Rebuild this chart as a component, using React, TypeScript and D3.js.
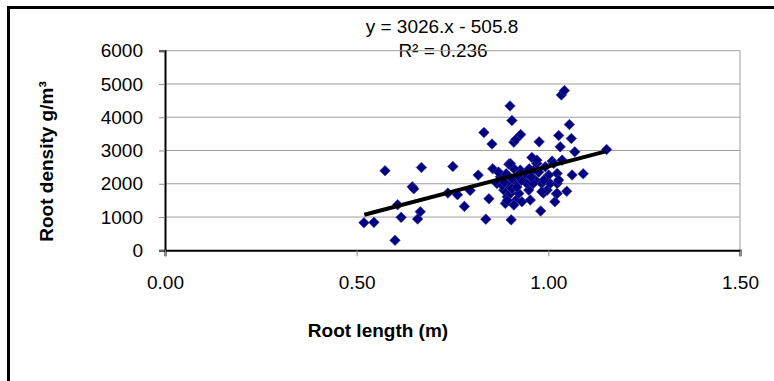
import React, { useEffect, useRef } from "react";
import { axisBottom, axisLeft, scaleLinear, select, line, symbol, symbolSquare } from "d3";

const width = 774;
const height = 381;
const plotLeft = 165;
const plotRight = 740;
const plotTop = 50.7;
const plotBottom = 250.3;
const font = "'Liberation Sans', Arial, sans-serif";

// root length (m)
const rootLength = [
  0.519, 0.545, 0.574, 0.6, 0.607, 0.616, 0.645, 0.649, 0.659, 0.666, 0.669, 0.738,
  0.751, 0.763, 0.781, 0.796, 0.817, 0.832, 0.837, 0.845, 0.853, 0.855, 0.9, 0.905,
  0.903, 0.91, 0.915, 0.928, 0.897, 0.888, 0.916, 0.976, 0.98, 1.01, 0.987, 1.017,
  1.021, 1.027, 1.031, 1.034, 1.042, 1.055, 1.06, 1.069, 1.062, 1.091, 1.048, 1.152,
  0.875, 0.866, 0.884, 0.893, 0.91, 0.914, 0.923, 0.936, 0.949, 0.944, 0.962, 0.97,
  0.992, 1.001, 0.901, 0.896, 0.927, 0.91, 0.983, 0.966, 1.005, 1.023, 1.036, 0.953,
  0.931, 0.957, 0.97, 1.023, 1.027, 0.988, 1.023, 0.997, 0.983, 1.014, 0.901, 0.89,
  0.88, 0.905, 0.918, 0.93, 0.94, 0.95, 0.96, 0.975, 0.893, 0.905, 0.92, 0.955, 0.87,
  0.885,
];
// root density g/m3
const rootDensity = [
  830, 840, 2390, 300, 1370, 990, 1910, 1850, 940, 1160, 2490, 1720,
  2520, 1670, 1320, 1800, 2260, 3540, 935, 1550, 3195, 2450, 4340, 3900,
  915, 3250, 3330, 3480, 2590, 1410, 1510, 3260, 1180, 2680, 1720, 1460,
  1700, 3450, 3110, 4670, 4800, 3780, 3360, 2960, 2265, 2300, 1775, 3030,
  2210, 2010, 1810, 1610, 1360, 2010, 1710, 2210, 1810, 2010, 2410, 2610,
  2510, 2260, 1710, 1960, 2410, 2460, 2010, 2110, 2010, 2010, 2710, 1510,
  1460, 2790, 2710, 2310, 2110, 2110, 1710, 1810, 1760, 2610, 2610, 2300,
  1950, 1850, 1900, 2100, 2300, 2450, 2000, 2350, 1500, 2150, 2250, 2200, 2350,
  2050,
];

const slope = 3026;
const intercept = -505.8;
const trendRange = [0.52, 1.15];
const xTicks = [0, 0.5, 1, 1.5];
const yTicks = [0, 1000, 2000, 3000, 4000, 5000, 6000];

export default function App() {
  const svgRef = useRef<SVGSVGElement>(null);

  useEffect(() => {
    const svg = select(svgRef.current);
    svg.selectAll(".dyn").remove();
    const g = svg.append("g").attr("class", "dyn");

    const x = scaleLinear().domain([0, 1.5]).range([plotLeft, plotRight]);
    const y = scaleLinear().domain([0, 6000]).range([plotBottom, plotTop]);

    // gridlines
    g.selectAll(".grid")
      .data(yTicks.slice(1))
      .join("line")
      .attr("x1", plotLeft)
      .attr("x2", plotRight)
      .attr("y1", (d) => y(d))
      .attr("y2", (d) => y(d))
      .attr("stroke", "#a0a0a0")
      .attr("stroke-width", 1);

    g.append("line")
      .attr("x1", plotRight)
      .attr("x2", plotRight)
      .attr("y1", plotTop)
      .attr("y2", plotBottom)
      .attr("stroke", "#a0a0a0");

    const yAxis = g
      .append("g")
      .attr("transform", `translate(${plotLeft},0)`)
      .call(axisLeft(y).tickValues(yTicks).tickSize(6).tickPadding(16).tickFormat((d) => String(d)));
    yAxis.select(".domain").attr("stroke", "#000").attr("stroke-width", 2);
    yAxis.selectAll(".tick line").attr("stroke", "#909090");
    yAxis.selectAll("text").attr("font-family", font).attr("font-size", 19).attr("fill", "#000");

    const xAxis = g
      .append("g")
      .attr("transform", `translate(0,${plotBottom})`)
      .call(axisBottom(x).tickValues(xTicks).tickSize(6).tickPadding(19).tickFormat((d) => Number(d).toFixed(2)));
    xAxis.select(".domain").attr("stroke", "#000").attr("stroke-width", 2);
    xAxis.selectAll(".tick line").attr("stroke", "#909090");
    xAxis.selectAll("text").attr("font-family", font).attr("font-size", 19).attr("fill", "#000");

    // points (rotated squares)
    const pts = rootLength.map((v, i) => [v, rootDensity[i]]);
    const diamond = symbol().type(symbolSquare).size(56);
    g.selectAll(".pt")
      .data(pts)
      .join("path")
      .attr("transform", (d) => `translate(${x(d[0])},${y(d[1])}) rotate(45)`)
      .attr("d", diamond)
      .attr("fill", "#000080")
      .attr("stroke", "#3a3aa0")
      .attr("stroke-width", 0.6);

    // trend line
    const trend = line<number>()
      .x((d) => x(d))
      .y((d) => y(slope * d + intercept));
    g.append("path")
      .datum(trendRange)
      .attr("d", trend)
      .attr("fill", "none")
      .attr("stroke", "#000")
      .attr("stroke-width", 4);
  }, []);

  return (
    <svg
      ref={svgRef}
      width={width}
      height={height}
      style={{ position: "absolute", left: 0, top: 0, background: "#fff" }}
    >
      <rect x={8.5} y={7.5} width={800} height={420} fill="#fff" stroke="#000" strokeWidth={3} />
      <text x={442} y={33} textAnchor="middle" fontFamily={font} fontSize={19}>
        y = 3026.x - 505.8
      </text>
      <text
        transform="translate(53,161.5) rotate(-90)"
        textAnchor="middle"
        fontFamily={font}
        fontSize={19}
        fontWeight="bold"
      >
        Root density g/m³
      </text>
      <text x={378} y={337} textAnchor="middle" fontFamily={font} fontSize={19} fontWeight="bold">
        Root length (m)
      </text>
      <text x={443} y={57} textAnchor="middle" fontFamily={font} fontSize={19}>
        R² = 0.236
      </text>
    </svg>
  );
}
